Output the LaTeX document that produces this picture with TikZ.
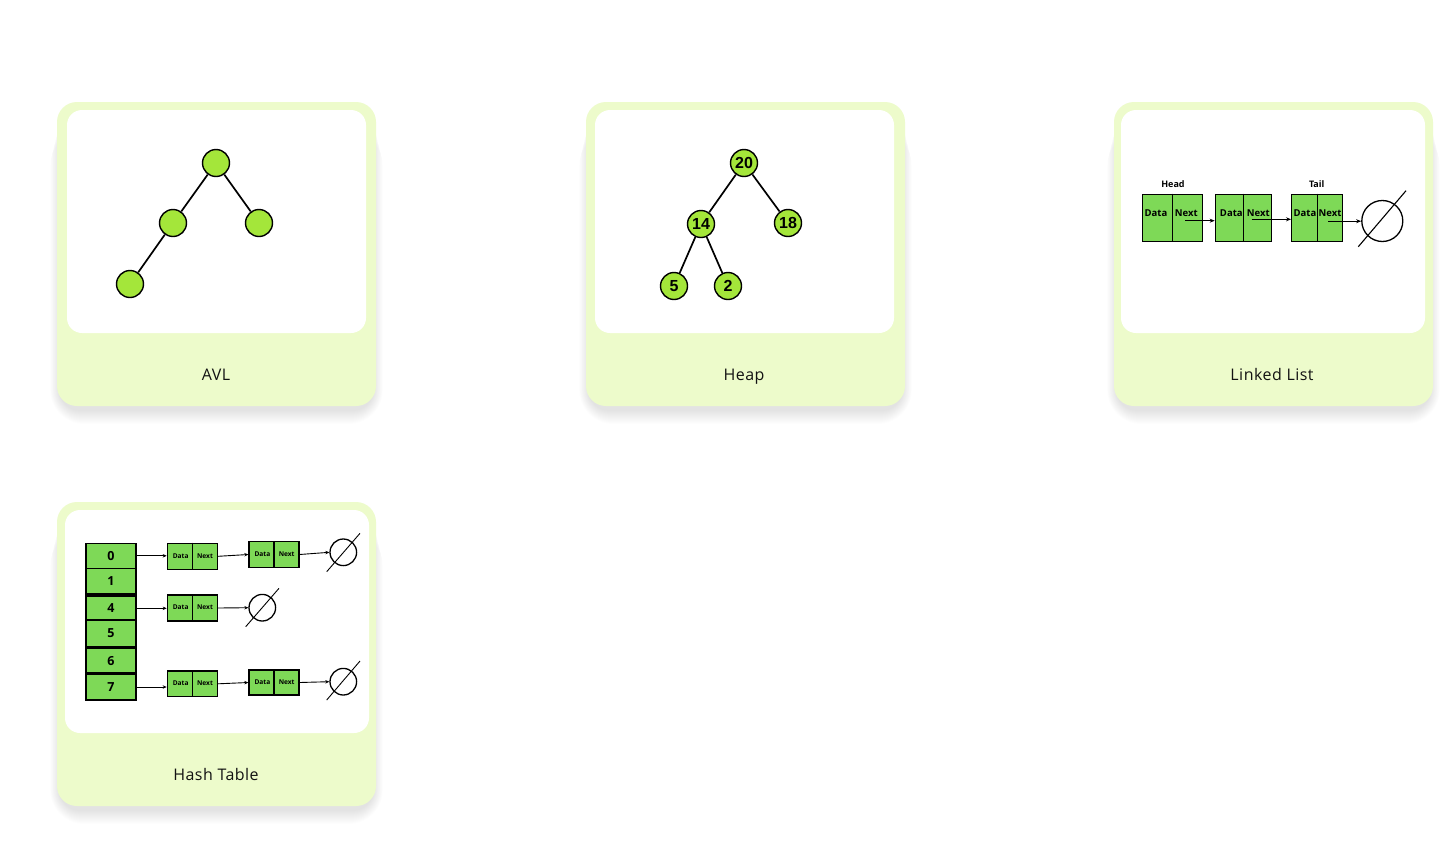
\documentclass[tikz,border=0pt]{standalone}
\usepackage{fontspec}
\setmainfont{Open Sans}
\newfontfamily\numfont{Liberation Sans}
\newfontfamily\labelfont[LetterSpace=3]{Open Sans}
\usetikzlibrary{arrows.meta,calc}
\definecolor{cardbg}{RGB}{237,251,203}
\definecolor{nodegreen}{RGB}{164,230,58}
\definecolor{boxgreen}{RGB}{126,217,87}
\definecolor{labelcol}{RGB}{18,18,18}
\newcommand\mycard[8]{%
  \foreach \i in {1,...,14}{
    \fill[black,opacity=0.009,rounded corners=20pt+\i pt]
      ($(#1,#2)+(-0.7*\i+3,2+2*\i)$) rectangle ($(#3,#4)+(0.7*\i-3,\i+4)$);
  }
  \fill[cardbg,rounded corners=20pt] (#1,#2) rectangle (#3,#4);
  \fill[white,rounded corners=15pt] (#5,#6) rectangle (#7,#8);
}
\begin{document}
\begin{tikzpicture}[x=1pt,y=-1pt,
  treenode/.style={circle,draw=black,line width=1.4pt,fill=nodegreen,minimum size=27pt,inner sep=0pt,font=\numfont\bfseries\fontsize{16}{16}\selectfont},
  treeedge/.style={line width=1.7pt},
  llbox/.style={draw=black,line width=1.3pt,fill=boxgreen,inner sep=0pt},
  lltext/.style={font=\bfseries\fontsize{9.5}{9.5}\selectfont,inner sep=0pt},
  tinytext/.style={font=\bfseries\fontsize{6.6}{6.6}\selectfont,inner sep=0pt},
  hrow/.style={draw=black,line width=1.5pt,fill=boxgreen,minimum width=50pt,inner sep=0pt,font=\bfseries\fontsize{12.5}{12.5}\selectfont},
  arr/.style={-{Stealth[length=5pt,width=4pt]},line width=1pt},
  sarr/.style={-{Stealth[length=4pt,width=3.5pt]},line width=0.9pt},
  nullc/.style={circle,draw=black,line width=1.3pt,inner sep=0pt},
  slash/.style={line width=1.1pt},
  cardlabel/.style={font=\labelfont\fontsize{16}{16}\selectfont,text=labelcol,anchor=base,inner sep=0pt}
]
\fill[white] (0,0) rectangle (1451,849);
\useasboundingbox (0,0) rectangle (1451,849);

% cards
\mycard{57}{102}{376}{406}{67}{110}{366}{333}
\mycard{586}{102}{905}{406}{595}{110}{894}{333}
\mycard{1114}{102}{1433}{406}{1121}{110}{1425}{333}
\mycard{57}{502}{376}{806}{65}{510}{369}{733}

\node[cardlabel] (lblavl) at (216,380) {AVL};
\node[cardlabel] (lblheap) at (744,380) {Heap};
\node[cardlabel] (lblll) at (1272,380) {Linked List};
\node[cardlabel] (lblhash) at (216,780) {Hash Table};

% AVL
\node[treenode] (avlA) at (216,163) {};
\node[treenode] (avlB) at (173,223) {};
\node[treenode] (avlC) at (259,223) {};
\node[treenode] (avlD) at (130,284) {};
\draw[treeedge] (avlA) -- (avlB);
\draw[treeedge] (avlA) -- (avlC);
\draw[treeedge] (avlB) -- (avlD);

% Heap
\node[treenode] (h20) at (744,163) {20};
\node[treenode] (h14) at (701,224) {14};
\node[treenode] (h18) at (788,223) {18};
\node[treenode] (h5) at (674,286) {5};
\node[treenode] (h2) at (728,286) {2};
\draw[treeedge] (h20) -- (h14);
\draw[treeedge] (h20) -- (h18);
\draw[treeedge] (h14) -- (h5);
\draw[treeedge] (h14) -- (h2);

% Linked list
\node[llbox,minimum width=60.4pt,minimum height=47pt] (L1) at (1172.5,217.8) {};
\node[llbox,minimum width=56.4pt,minimum height=47pt] (L2) at (1243.5,217.8) {};
\node[llbox,minimum width=51pt,minimum height=47pt] (L3) at (1317.2,217.8) {};
\draw[line width=1.3pt] (L1.north) -- (L1.south);
\draw[line width=1.3pt] (L2.north) -- (L2.south);
\draw[line width=1.3pt] (L3.north) -- (L3.south);
\node[lltext] (d1) at (1156,212.7) {Data};
\node[lltext] (n1) at (1186.3,212.7) {Next};
\node[lltext] (d2) at (1231.3,212.7) {Data};
\node[lltext] (n2) at (1258.3,212.7) {Next};
\node[lltext] (d3) at (1305,212.7) {Data};
\node[lltext] (n3) at (1330,212.7) {Next};
\node[lltext,font=\bfseries\fontsize{9}{9}\selectfont] (head) at (1173,184.3) {Head};
\node[lltext,font=\bfseries\fontsize{9}{9}\selectfont] (tail) at (1316.7,184.3) {Tail};
\node[nullc,minimum size=41pt] (N1) at (1382.3,221) {};
\coordinate (N1a) at (1358.3,246.7);
\coordinate (N1b) at (1406,190.7);
\draw[slash] (N1a) -- (N1b);
\coordinate (s1) at (1185,220.7);
\coordinate (s2) at (1251.7,219.3);
\coordinate (s3) at (1328.3,221.2);
\draw[arr] (s1) -- (s1 -| L2.west);
\draw[arr] (s2) -- (s2 -| L3.west);
\draw[arr] (s3) -- (s3 -| N1.west);

% Hash table column
\node[hrow,minimum height=25pt] (r0) at (111,555.8) {0};
\node[hrow,minimum height=25.7pt] (r1) at (111,581.2) {1};
\node[hrow,minimum height=23.4pt] (r4) at (111,608.3) {4};
\node[hrow,minimum height=26.7pt] (r5) at (111,633.3) {5};
\node[hrow,minimum height=25.7pt] (r6) at (111,661.2) {6};
\node[hrow,minimum height=26pt] (r7) at (111,687) {7};
\draw[line width=2.8pt] (r4.north west) -- (r4.north east);
\draw[line width=2.8pt] (r6.north west) -- (r6.north east);
\draw[line width=2.8pt] (r7.north west) -- (r7.north east);

% Hash chains
\node[llbox,minimum width=50pt,minimum height=26pt] (c0a) at (192.3,556.3) {};
\node[llbox,minimum width=50pt,minimum height=25.6pt] (c0b) at (274,554.5) {};
\node[llbox,minimum width=50pt,minimum height=26pt] (c4a) at (192.3,608) {};
\node[llbox,minimum width=50pt,minimum height=25.7pt] (c7a) at (192.3,683.8) {};
\node[llbox,minimum width=50pt,minimum height=25pt] (c7b) at (274,682.5) {};
\foreach \b in {c0a,c0b,c4a,c7a,c7b}{
  \draw[line width=1.3pt] (\b.north) -- (\b.south);
  \node[tinytext] (\b-d) at ($(\b)+(-11.6,-0.6)$) {Data};
  \node[tinytext] (\b-n) at ($(\b)+(12.7,-0.6)$) {Next};
}
\node[nullc,minimum size=26.6pt] (null0) at (343.3,552.3) {};
\node[nullc,minimum size=26.6pt] (null4) at (262.3,607.7) {};
\node[nullc,minimum size=26.6pt] (null7) at (343.3,681.7) {};
\coordinate (z0a) at (326.7,571.7); \coordinate (z0b) at (360,533.3);
\coordinate (z4a) at (245.7,626.7); \coordinate (z4b) at (279,588.3);
\coordinate (z7a) at (326.7,700); \coordinate (z7b) at (360,661);
\draw[slash,line width=0.9pt] (z0a) -- (z0b);
\draw[slash,line width=0.9pt] (z4a) -- (z4b);
\draw[slash,line width=0.9pt] (z7a) -- (z7b);
\draw[sarr] (r0.east) -- (r0.east -| c0a.west);
\draw[sarr] (c0a.east) -- (c0b.west);
\draw[sarr] (c0b.east) -- (null0.west);
\draw[sarr] (r4.east) -- (r4.east -| c4a.west);
\draw[sarr] (c4a.east) -- (null4.west);
\draw[sarr] (r7.east) -- (r7.east -| c7a.west);
\draw[sarr] (c7a.east) -- (c7b.west);
\draw[sarr] (c7b.east) -- (null7.west);
\end{tikzpicture}
\end{document}
